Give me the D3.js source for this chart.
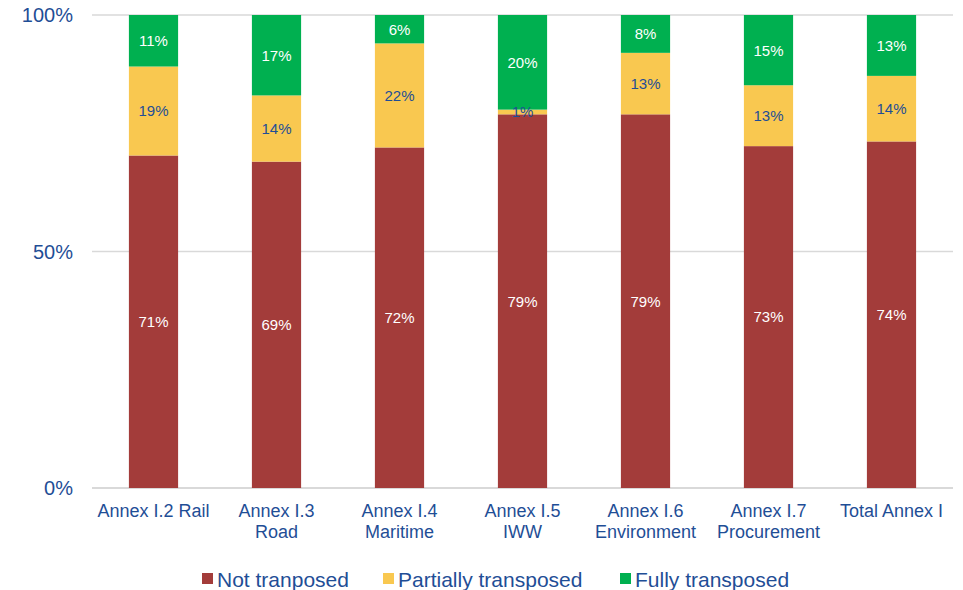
<!DOCTYPE html>
<html>
<head>
<meta charset="utf-8">
<script src="https://cdn.jsdelivr.net/npm/d3@7"></script>
<style>
  html, body { margin: 0; padding: 0; background: #fff; }
  svg { display: block; font-family: "Liberation Sans", Arial, sans-serif; }
</style>
</head>
<body>
<svg id="chart" width="963" height="590"></svg>
<script>
// Categories (each may wrap onto two lines)
const categories = [
  ["Annex I.2 Rail"],
  ["Annex I.3", "Road"],
  ["Annex I.4", "Maritime"],
  ["Annex I.5", "IWW"],
  ["Annex I.6", "Environment"],
  ["Annex I.7", "Procurement"],
  ["Total Annex I"]
];
const seriesNames = ["Not tranposed", "Partially transposed", "Fully transposed"];
const notTransposed       = [71, 69, 72, 79, 79, 73, 74];
const partiallyTransposed = [19, 14, 22, 1, 13, 13, 14];
const fullyTransposed     = [11, 17, 6, 20, 8, 15, 13];
const yTicks = [0, 0.5, 1];

const colors = ["#A33C3A", "#F9C850", "#00B050"];
const labelColors = ["#ffffff", "#1F4E96", "#ffffff"];
const textBlue = "#1F4E96";

const rows = categories.map((c, i) => ({
  key: c.join(" "),
  lines: c,
  s0: notTransposed[i],
  s1: partiallyTransposed[i],
  s2: fullyTransposed[i]
}));

const svg = d3.select("#chart");
const margin = { left: 92, right: 10, top: 15, bottom: 102 };
const width = 963, height = 590;
const x0 = margin.left, x1 = width - margin.right;
const yBottom = height - margin.bottom, yTop = margin.top;

const x = d3.scaleBand().domain(rows.map(d => d.key)).range([x0, x1]).paddingInner(0.6).paddingOuter(0.3);
const y = d3.scaleLinear().domain([0, 1]).range([yBottom, yTop]);

// stacked 100% series
const stack = d3.stack().keys(["s0", "s1", "s2"]).offset(d3.stackOffsetExpand);
const layers = stack(rows);

// gridlines
svg.append("g").selectAll("line").data(yTicks).join("line")
  .attr("x1", x0).attr("x2", x1)
  .attr("y1", d => y(d)).attr("y2", d => y(d))
  .attr("stroke", "#d9d9d9").attr("stroke-width", d => d === 0 ? 2 : 1.5);

// y tick labels
svg.append("g").selectAll("text").data(yTicks).join("text")
  .attr("x", 73).attr("y", d => y(d)).attr("dy", "0.36em")
  .attr("text-anchor", "end").attr("fill", textBlue).attr("font-size", 20)
  .text(d => d3.format(".0%")(d));

// bars
const g = svg.append("g");
layers.forEach((layer, li) => {
  g.append("g").selectAll("rect").data(layer).join("rect")
    .attr("x", d => x(d.data.key))
    .attr("width", x.bandwidth())
    .attr("y", d => y(d[1]))
    .attr("height", d => y(d[0]) - y(d[1]))
    .attr("fill", colors[li]);
});

// value labels
layers.forEach((layer, li) => {
  g.append("g").selectAll("text").data(layer).join("text")
    .attr("x", d => x(d.data.key) + x.bandwidth() / 2)
    .attr("y", d => (y(d[0]) + y(d[1])) / 2)
    .attr("dy", "0.36em")
    .attr("text-anchor", "middle")
    .attr("font-size", 15)
    .attr("fill", labelColors[li])
    .text(d => d.data[layer.key] + "%");
});

// category labels
const cat = svg.append("g").selectAll("text").data(rows).join("text")
  .attr("x", d => x(d.key) + x.bandwidth() / 2)
  .attr("y", 517)
  .attr("text-anchor", "middle").attr("fill", textBlue).attr("font-size", 18);
cat.selectAll("tspan").data(d => d.lines).join("tspan")
  .attr("x", function () { return d3.select(this.parentNode).attr("x"); })
  .attr("dy", (d, i) => i === 0 ? 0 : 21)
  .text(d => d);

// legend
const legendX = [202, 383, 620];
const leg = svg.append("g").selectAll("g").data(seriesNames).join("g")
  .attr("transform", (d, i) => `translate(${legendX[i]},579)`);
leg.append("rect").attr("x", 0).attr("y", -6).attr("width", 11).attr("height", 11)
  .attr("fill", (d, i) => colors[i]);
leg.append("text").attr("x", 15).attr("y", 0).attr("dy", "0.36em")
  .attr("fill", textBlue).attr("font-size", 21).text(d => d);
</script>
</body>
</html>
